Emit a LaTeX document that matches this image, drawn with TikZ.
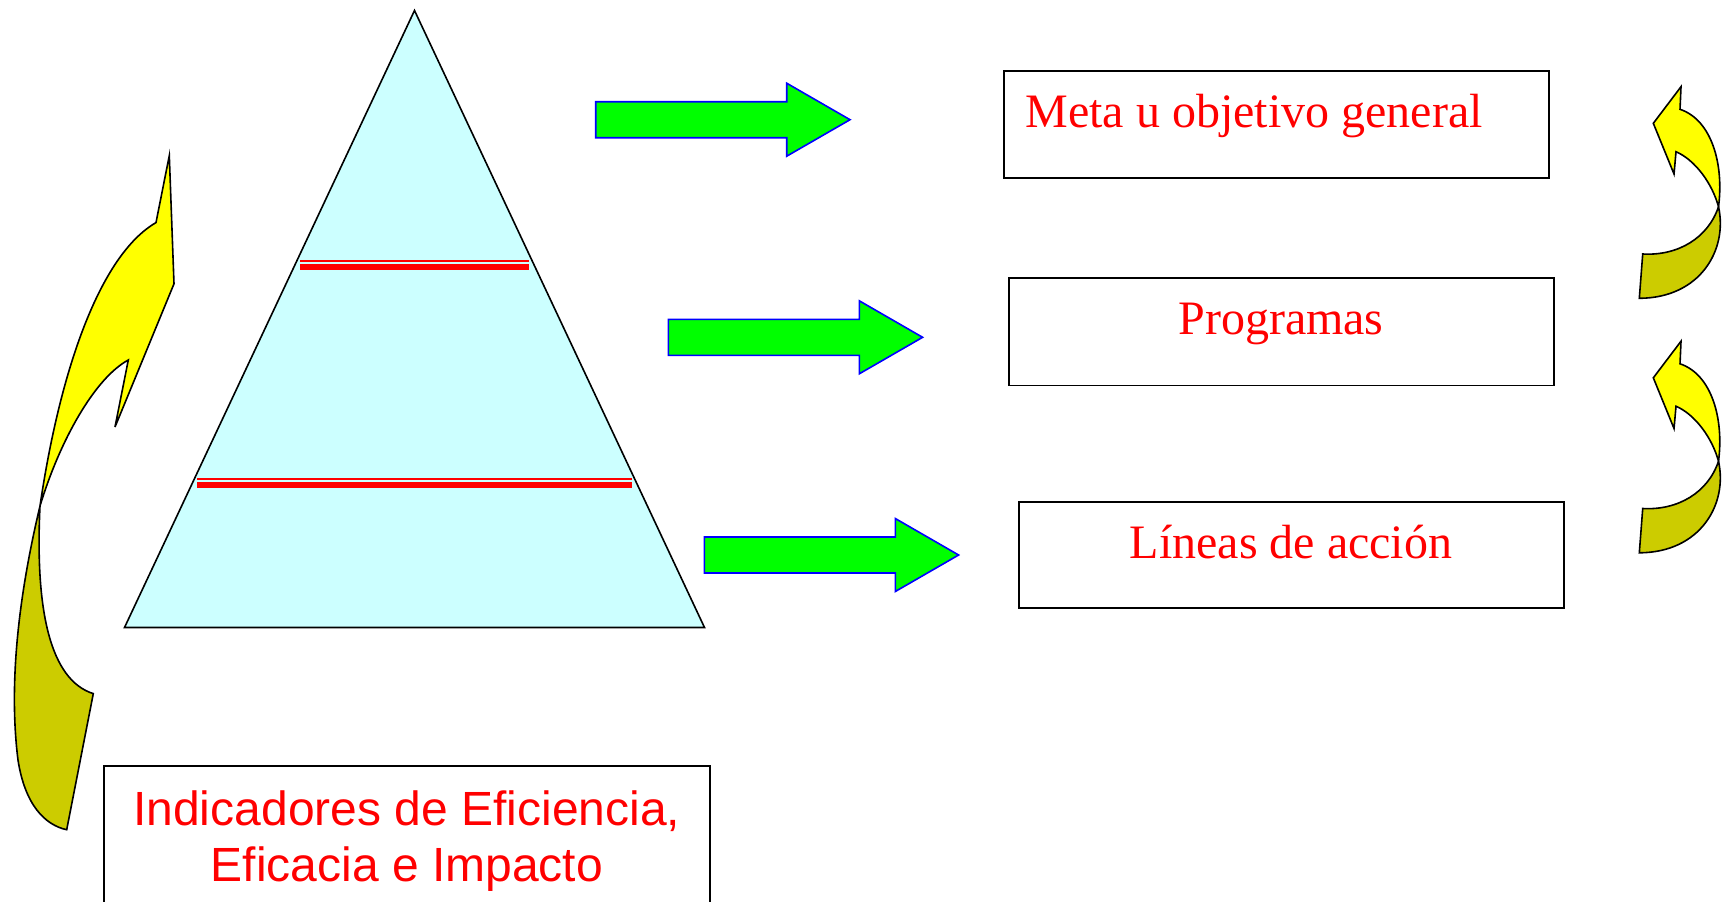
\documentclass[tikz,border=0pt]{standalone}
\usepackage{fontspec}
\setmainfont{Liberation Serif}
\newfontfamily\arialfont{Liberation Sans}
\definecolor{arrowgreen}{HTML}{00FF00}
\definecolor{arrowblue}{HTML}{0000FF}
\definecolor{cyanfill}{HTML}{CCFFFF}
\definecolor{yelfill}{HTML}{FFFF00}
\definecolor{olivefill}{HTML}{CCCC00}
\definecolor{txtred}{HTML}{FF0000}
\begin{document}
\begin{tikzpicture}[x=0.5pt,y=-0.5pt,
  boxstyle/.style={draw=black,line width=0.9pt,fill=white,inner sep=0pt,minimum width=272.45pt},
  seriftext/.style={text=txtred,inner sep=0pt,font=\fontsize{24}{28}\selectfont},
  sanstext/.style={text=txtred,inner sep=0pt,font=\arialfont\fontsize{24}{28}\selectfont},
  blockarrow/.style={draw=arrowblue,fill=arrowgreen,line width=0.8pt,line join=miter},
  yellowpart/.style={draw=black,fill=yelfill,line width=0.8pt,line join=miter},
  olivepart/.style={draw=black,fill=olivefill,line width=0.8pt,line join=miter},
  pyramid/.style={draw=black,fill=cyanfill,line width=0.8pt,line join=miter},
  redband/.style={fill=txtred,draw=none},
  greenarrow/.pic={\path[blockarrow] (0,-18) -- (191,-18) -- (191,-36.5) -- (254.3,0) -- (191,36.5) -- (191,18) -- (0,18) -- cycle;},
  curlarrow/.pic={
    \path[yellowpart] (1676,151.7) -- (1674,174) -- (1653.3,123.3) -- (1681,86.7) -- (1680,109.3)
      .. controls (1712,120) and (1724,165) .. (1718.5,206.7)
      .. controls (1712,183) and (1695,160) .. (1676,151.7) -- cycle;
    \path[olivepart] (1718.5,206.7) .. controls (1728,250) and (1700,298) .. (1639.3,298.3)
      -- (1642.7,254) .. controls (1678,256) and (1708,238) .. (1718.5,206.7) -- cycle;}
]
\useasboundingbox (0,0) rectangle (1722,901);
\clip (0,0) rectangle (1722,901);

% pyramid
\coordinate (apex) at (414.5,10.5);
\coordinate (bl) at (124.5,627.5);
\coordinate (br) at (704.5,627.5);
\path[pyramid] (apex) -- (br) -- (bl) -- cycle;

% red level lines
\path[redband] (300,260) rectangle (529,261.8);
\path[redband] (300,264) rectangle (529,270);
\path[redband] (197,477.7) rectangle (632,479.8);
\path[redband] (197,482) rectangle (632,488.3);

% green block arrows
\pic at (595.7,119.7) {greenarrow};
\pic at (668.3,337.3) {greenarrow};
\pic at (704.3,555) {greenarrow};

% boxes
\node[boxstyle,minimum height=53.8pt] (b1) at (1276.15,124.5) {};
\node[boxstyle,minimum height=53.6pt] (b2) at (1281.15,331.9) {};
\node[boxstyle,minimum height=53.3pt] (b3) at (1291.15,555) {};
\node[boxstyle,minimum width=302.95pt,minimum height=100pt] (b4) at (406.75,866) {};

\node[seriftext,anchor=base west] (t1) at (1025,127) {Meta u objetivo general};
\node[seriftext,anchor=base] (t2) at (1281,334.3) {Programas};
\node[seriftext,anchor=base] (t3) at (1291,558.3) {Líneas de acción};
\node[sanstext,anchor=base] (t4a) at (406.75,825) {Indicadores de Eficiencia,};
\node[sanstext,anchor=base] (t4b) at (406.75,881) {Eficacia e Impacto};

% big curved arrow on the left
\path[yellowpart] (128.3,360) -- (115,427) -- (174,283.8) -- (169.3,155.6) -- (156,222.6)
  .. controls (100,255) and (60,370) .. (40,506)
  .. controls (60,440) and (95,378) .. (128.3,360) -- cycle;
\path[olivepart] (40,506) .. controls (20,590) and (8,680) .. (18,760)
  .. controls (25,805) and (45,825) .. (66.7,829.7) -- (93.3,693.6)
  .. controls (50,680) and (35,610) .. (40,506) -- cycle;

% small curved arrows on the right
\pic at (0,0) {curlarrow};
\pic at (0,254.5) {curlarrow};
\end{tikzpicture}
\end{document}
